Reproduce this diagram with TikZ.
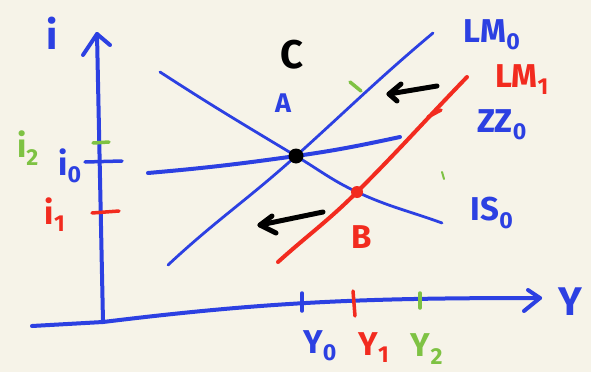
\documentclass[tikz,border=0pt]{standalone}
\usepackage{fontspec}
\setmainfont{Fira Sans}
\definecolor{inkblue}{HTML}{2C40E2}
\definecolor{inkred}{HTML}{F22B1F}
\definecolor{inkgreen}{HTML}{7EC243}
\definecolor{paper}{HTML}{F6F3E8}
\tikzset{
  pen/.style={line cap=round, line join=round},
  axisline/.style={pen, inkblue, line width=4pt},
  bluecurve/.style={pen, inkblue, line width=2.8pt},
  bluethick/.style={pen, inkblue, line width=4pt},
  redcurve/.style={pen, inkred, line width=4pt},
  tickmark/.style={pen, line width=3.5pt},
  shiftarrow/.style={pen, black, line width=5pt},
  hand/.style={inner sep=0pt, font=\bfseries\fontsize{33}{33}\selectfont},
  handbig/.style={inner sep=0pt, font=\bfseries\fontsize{40}{40}\selectfont},
  handsmall/.style={inner sep=0pt, font=\bfseries\fontsize{27}{27}\selectfont},
}
\begin{document}
\begin{tikzpicture}[x=1pt,y=-1pt]
  % paper and picture frame
  \fill[paper] (0,0) rectangle (591,372);
  \useasboundingbox (0,0) rectangle (591,372);

  % key points of the sketch
  \coordinate (origin) at (103,322);
  \coordinate (ytop)   at (97,34);
  \coordinate (yarmL)  at (83,55);
  \coordinate (yarmR)  at (110,45);
  \coordinate (xstart) at (32,326);
  \coordinate (xtip)   at (540,298);
  \coordinate (xarmU)  at (528,290);
  \coordinate (xarmD)  at (524,311);
  \coordinate (E0) at (296,156);
  \coordinate (EB) at (357,192);

  % axes
  \draw[axisline] (origin) -- (ytop);
  \draw[axisline] (yarmL) -- (ytop) -- (yarmR);
  \draw[axisline] (xstart) -- (origin) to[out=7,in=180] (xtip);
  \draw[axisline] (xarmU) -- (xtip) -- (xarmD);

  % IS0 curve
  \coordinate (isA) at (160,72);
  \coordinate (isB) at (442,223);
  \draw[bluecurve] (isA) to[out=-33,in=149] (E0) to[out=-31,in=155] (EB) to[out=-25,in=160] (isB);

  % LM0 curve
  \coordinate (lmA) at (168,265);
  \coordinate (lmB) at (433,33);
  \draw[bluecurve] (lmA) to[out=43,in=-138] (E0) to[out=42,in=-140] (lmB);

  % ZZ0 curve
  \coordinate (zzA) at (148,173);
  \coordinate (zzB) at (400,137);
  \draw[bluethick] (zzA) to[out=5,in=-172] (E0) to[out=8,in=-168] (zzB);

  % LM1 curve
  \coordinate (lm1A) at (278,262);
  \coordinate (lm1B) at (467,77);
  \draw[redcurve] (lm1A) to[out=42,in=-135] (EB) to[out=45,in=-134] (lm1B);
  \coordinate (rmA) at (428,117);
  \coordinate (rmB) at (441,110);
  \draw[pen, inkred, line width=3.5pt] (rmA) -- (rmB);

  % equilibrium points
  \fill[black] (E0) circle (7.5);
  \fill[inkred] (EB) circle (6);

  % shift arrows
  \coordinate (arA0) at (437,86);
  \coordinate (arA1) at (389,94);
  \coordinate (arAu) at (401,84);
  \coordinate (arAd) at (397,101);
  \draw[shiftarrow] (arA0) -- (arA1);
  \draw[shiftarrow] (arAu) -- (arA1) -- (arAd);
  \coordinate (arB0) at (323,212);
  \coordinate (arB1) at (260,225);
  \coordinate (arBu) at (272,216);
  \coordinate (arBd) at (276,233);
  \draw[shiftarrow] (arB0) -- (arB1);
  \draw[shiftarrow] (arBu) -- (arB1) -- (arBd);

  % small green marks
  \coordinate (gmA) at (350,82);
  \coordinate (gmB) at (361,91);
  \draw[tickmark, inkgreen] (gmA) -- (gmB);
  \coordinate (gdA) at (442,172);
  \coordinate (gdB) at (444,179);
  \draw[pen, inkgreen, line width=2pt] (gdA) -- (gdB);

  % ticks on the i axis
  \coordinate (ti2a) at (93,143);
  \coordinate (ti2b) at (109,142);
  \draw[tickmark, inkgreen] (ti2a) -- (ti2b);
  \coordinate (ti0a) at (85,162);
  \coordinate (ti0b) at (122,161);
  \draw[tickmark, inkblue] (ti0a) -- (ti0b);
  \coordinate (ti1a) at (92,213);
  \coordinate (ti1b) at (119,211);
  \draw[tickmark, inkred] (ti1a) -- (ti1b);

  % ticks on the Y axis
  \coordinate (tY0a) at (302,293);
  \coordinate (tY0b) at (302,311);
  \draw[tickmark, inkblue] (tY0a) -- (tY0b);
  \coordinate (tY1a) at (353,291);
  \coordinate (tY1b) at (355,316);
  \draw[tickmark, inkred] (tY1a) -- (tY1b);
  \coordinate (tY2a) at (420,293);
  \coordinate (tY2b) at (420,308);
  \draw[tickmark, inkgreen] (tY2a) -- (tY2b);

  % labels
  \node[handbig, inkblue] (ilab) at (52,33) {i};
  \node[handbig, inkblue, anchor=west] (Ylab) at (558,302) {Y};
  \node[hand, inkgreen] (i2lab) at (28,148) {i\textsubscript{2}};
  \node[hand, inkblue] (i0lab) at (70,166) {i\textsubscript{0}};
  \node[hand, inkred] (i1lab) at (55,215) {i\textsubscript{1}};
  \node[handbig, black] (Clab) at (292,55) {C};
  \node[handsmall, inkblue] (Alab) at (283,103) {A};
  \node[hand, inkred] (Blab) at (362,237) {B};
  \node[hand, inkblue] (lm0lab) at (492,35) {LM\textsubscript{0}};
  \node[hand, inkred] (lm1lab) at (522,80) {LM\textsubscript{1}};
  \node[hand, inkblue] (zzlab) at (502,125) {ZZ\textsubscript{0}};
  \node[hand, inkblue] (islab) at (492,213) {IS\textsubscript{0}};
  \node[hand, inkblue] (Y0lab) at (320,346) {Y\textsubscript{0}};
  \node[hand, inkred] (Y1lab) at (374,348) {Y\textsubscript{1}};
  \node[hand, inkgreen] (Y2lab) at (427,349) {Y\textsubscript{2}};
\end{tikzpicture}
\end{document}
